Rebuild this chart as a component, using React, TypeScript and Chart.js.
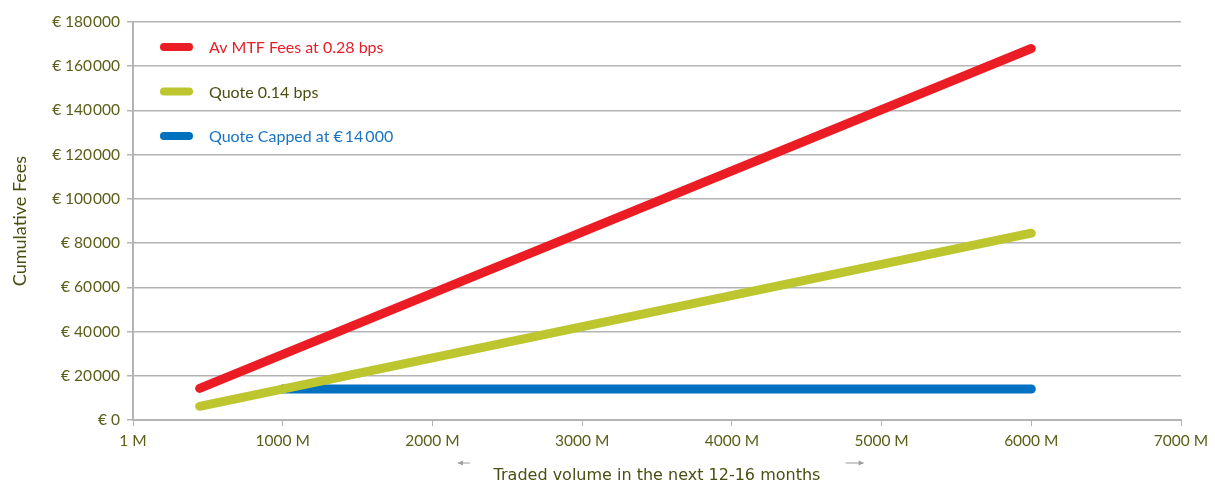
import React, { useEffect, useRef } from "react";
import { Chart, registerables } from "chart.js";

Chart.register(...registerables);

const xTickLabels = ["1 M", "1000 M", "2000 M", "3000 M", "4000 M", "5000 M", "6000 M", "7000 M"];
const volumeAv = [445, 6000];
const feesAv = [14300, 168000];
const volumeQuote = [445, 6000];
const feesQuote = [6200, 84500];
const volumeCapped = [1000, 6000];
const feesCapped = [14000, 14000];
const seriesNames = ["Av MTF Fees at 0.28 bps", "Quote 0.14 bps", "Quote Capped at \u20AC\u200914\u2009000"];
const seriesColors = ["#ec1c24", "#bdc62f", "#0070c0"];
const legendTextColors = ["#e8202a", "#4b4f12", "#1a74c4"];

const FONT = "Lato, 'Open Sans', sans-serif";
const TITLE_FONT = "'DejaVu Sans', Verdana, sans-serif";
const OLIVE = "#5a5e18";
const GRID = "#b4b4b4";

const pts = (xs: number[], ys: number[]) => xs.map((x, i) => ({ x, y: ys[i] }));

const decorPlugin = {
  id: "decor",
  afterDraw(chart: any) {
    const ctx = chart.ctx;
    const area = chart.chartArea;
    const xs = chart.scales.x;
    ctx.save();
    // legend
    seriesNames.forEach((name, i) => {
      const y = area.top + 25 + i * 44.5;
      const x0 = area.left + 31;
      ctx.strokeStyle = seriesColors[i];
      ctx.lineWidth = 8;
      ctx.lineCap = "round";
      ctx.beginPath();
      ctx.moveTo(x0, y);
      ctx.lineTo(x0 + 25, y);
      ctx.stroke();
      ctx.fillStyle = legendTextColors[i];
      ctx.font = `16px ${FONT}`;
      ctx.textBaseline = "middle";
      ctx.textAlign = "left";
      ctx.fillText(name, area.left + 76, y + 1);
    });
    // arrows near x-axis title
    ctx.strokeStyle = "#9a9a9a";
    ctx.fillStyle = "#9a9a9a";
    ctx.lineWidth = 1;
    ctx.lineCap = "butt";
    const ay = area.bottom + 43;
    const drawArrow = (from: number, to: number) => {
      ctx.beginPath();
      ctx.moveTo(from, ay);
      ctx.lineTo(to, ay);
      ctx.stroke();
      const dir = Math.sign(to - from);
      ctx.beginPath();
      ctx.moveTo(to, ay);
      ctx.lineTo(to - dir * 5, ay - 2.5);
      ctx.lineTo(to - dir * 5, ay + 2.5);
      ctx.closePath();
      ctx.fill();
    };
    drawArrow(xs.getPixelForValue(2250), xs.getPixelForValue(2170));
    drawArrow(xs.getPixelForValue(4760), xs.getPixelForValue(4880));
    ctx.restore();
  },
};

export default function App() {
  const ref = useRef<HTMLCanvasElement | null>(null);
  useEffect(() => {
    document.body.style.margin = "0";
    const common = { borderWidth: 9, borderCapStyle: "round" as const, pointRadius: 0, fill: false, tension: 0 };
    const chart = new Chart(ref.current!, {
      type: "line",
      data: {
        datasets: [
          { label: seriesNames[0], data: pts(volumeAv, feesAv), borderColor: seriesColors[0], ...common },
          { label: seriesNames[1], data: pts(volumeQuote, feesQuote), borderColor: seriesColors[1], ...common },
          { label: seriesNames[2], data: pts(volumeCapped, feesCapped), borderColor: seriesColors[2], ...common },
        ],
      },
      options: {
        animation: false,
        responsive: false,
        devicePixelRatio: 1,
        layout: { padding: { top: 22, right: 34, left: 9, bottom: 0 } },
        plugins: { legend: { display: false }, tooltip: { enabled: false } },
        scales: {
          x: {
            type: "linear",
            min: 0,
            max: 7000,
            afterFit: (s: any) => { s.height = 65; },
            ticks: {
              stepSize: 1000,
              color: OLIVE,
              font: { family: FONT, size: 15.5 },
              padding: 6,
              maxRotation: 0,
              callback: (v: any) => xTickLabels[Math.round(Number(v) / 1000)] ?? "",
            },
            grid: { drawOnChartArea: false, color: GRID, tickLength: 6, lineWidth: 1 },
            border: { color: GRID, width: 2 },
            title: {
              display: true,
              text: "Traded volume in the next 12-16 months",
              color: "#4b4f12",
              font: { family: TITLE_FONT, size: 16 },
              padding: { top: 15, bottom: 0 },
            },
          },
          y: {
            min: 0,
            max: 180000,
            afterFit: (s: any) => { s.width = 124; },
            ticks: {
              stepSize: 20000,
              color: OLIVE,
              font: { family: FONT, size: 15.5 },
              padding: 7,
              callback: (v: any) => {
                const n = Number(v);
                if (n === 0) return "\u20AC 0";
                const th = Math.floor(n / 1000);
                return "\u20AC " + th + "\u200A000";
              },
            },
            grid: { color: GRID, tickLength: 6, lineWidth: 1.5 },
            border: { color: GRID, width: 2 },
            title: {
              display: true,
              text: "Cumulative Fees",
              color: "#4b4f12",
              font: { family: FONT, size: 18 },
              padding: { top: 0, bottom: 8 },
            },
          },
        },
      },
      plugins: [decorPlugin],
    });
    return () => chart.destroy();
  }, []);
  return (
    <div style={{ position: "fixed", left: 0, top: 0, width: 1215, height: 485, background: "#fff" }}>
      <canvas ref={ref} width={1215} height={485} style={{ width: 1215, height: 485 }} />
    </div>
  );
}
